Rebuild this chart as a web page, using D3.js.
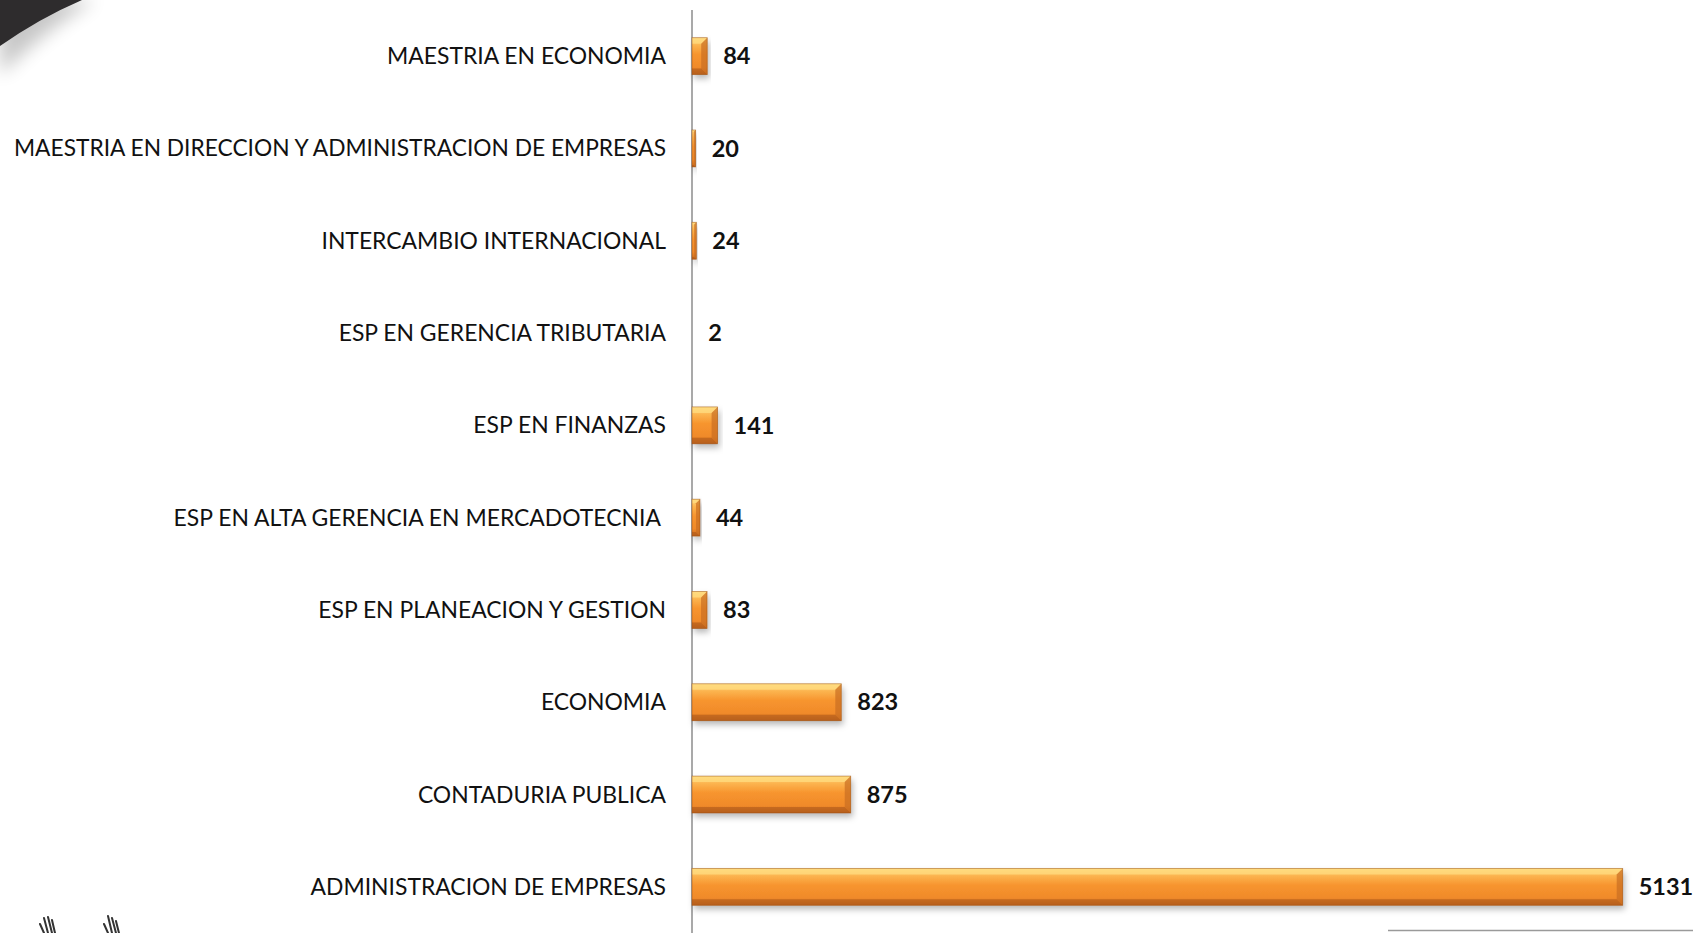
<!DOCTYPE html>
<html>
<head>
<meta charset="utf-8">
<script src="https://cdn.jsdelivr.net/npm/d3@7"></script>
<style>
html,body{margin:0;padding:0;background:#fff;overflow:hidden;}
svg{display:block;}
</style>
</head>
<body>
<svg id="chart" width="1693" height="933"></svg>
<script>
const categories = [
  "MAESTRIA EN ECONOMIA",
  "MAESTRIA EN DIRECCION Y ADMINISTRACION DE EMPRESAS",
  "INTERCAMBIO INTERNACIONAL",
  "ESP EN GERENCIA TRIBUTARIA",
  "ESP EN FINANZAS",
  "ESP EN ALTA GERENCIA EN MERCADOTECNIA ",
  "ESP EN PLANEACION Y GESTION",
  "ECONOMIA",
  "CONTADURIA PUBLICA",
  "ADMINISTRACION DE EMPRESAS"
];
const values = [84, 20, 24, 2, 141, 44, 83, 823, 875, 5131];

const svg = d3.select("#chart");
const W = 1693, H = 933;
const x0 = 692;

const defs = svg.append("defs");
const g1 = defs.append("linearGradient").attr("id","barGrad").attr("x1",0).attr("y1",0).attr("x2",0).attr("y2",1);
[[0,"#ffd87e"],[0.2,"#fcb44f"],[0.45,"#f7952f"],[0.8,"#f08a2a"],[1,"#c86a1e"]].forEach(s=>g1.append("stop").attr("offset",s[0]).attr("stop-color",s[1]));
const fs = defs.append("filter").attr("id","shadow").attr("x","-10%").attr("y","-40%").attr("width","130%").attr("height","200%");
fs.append("feDropShadow").attr("dx",2).attr("dy",4).attr("stdDeviation",3).attr("flood-color","#000").attr("flood-opacity",0.28);
const fb = defs.append("filter").attr("id","blur").attr("x","-50%").attr("y","-50%").attr("width","200%").attr("height","200%");
fb.append("feGaussianBlur").attr("stdDeviation",9);

// decorative top-left corner
svg.append("path").attr("d","M0,0 L95,0 Q45,30 0,75 Z").attr("fill","#000").attr("opacity",0.22).attr("filter","url(#blur)");
svg.append("path").attr("d","M0,0 L82,0 Q40,18 0,46 Z").attr("fill","#2e2c2d");

const x = d3.scaleLinear().domain([0, d3.max(values)]).range([x0, 1622.7]);
const y = d3.scaleBand().domain(categories).range([10, 933]).paddingInner(0.6).paddingOuter(0.3);

// axis line
svg.append("line").attr("x1",x0).attr("x2",x0).attr("y1",10).attr("y2",H).attr("stroke","#8c8c8c").attr("stroke-width",1.5);

const data = categories.map((c,i)=>({c, v: values[i]}));
const bars = svg.append("g").selectAll("g").data(data).join("g");

bars.each(function(d){
  const g = d3.select(this);
  const bx = x(0), bw = x(d.v) - x(0), by = y(d.c), bh = y.bandwidth();
  if (bw < 0.5) return;
  const b = Math.min(6, bw/2, bh/4);
  g.append("rect").attr("x",bx).attr("y",by).attr("width",bw).attr("height",bh)
    .attr("fill","url(#barGrad)").attr("filter","url(#shadow)");
  g.append("path").attr("d",`M${bx},${by} L${bx+bw},${by} L${bx+bw-b},${by+b} L${bx},${by+b} Z`).attr("fill","#ffdc80").attr("opacity",0.75);
  g.append("path").attr("d",`M${bx},${by+bh} L${bx+bw},${by+bh} L${bx+bw-b},${by+bh-b} L${bx},${by+bh-b} Z`).attr("fill","#a9561a").attr("opacity",0.55);
  g.append("path").attr("d",`M${bx+bw},${by} L${bx+bw},${by+bh} L${bx+bw-b},${by+bh-b} L${bx+bw-b},${by+b} Z`).attr("fill","#c96d22").attr("opacity",0.7);
  g.append("rect").attr("x",bx).attr("y",by).attr("width",bw).attr("height",bh)
    .attr("fill","none").attr("stroke","#9a4e12").attr("stroke-width",0.8).attr("stroke-opacity",0.6);
});

// category labels
const labels = svg.append("g").selectAll("text").data(data).join("text")
  .attr("x", x0 - 26)
  .attr("y", d => y(d.c) + y.bandwidth()/2)
  .attr("dy","0.35em")
  .attr("text-anchor","end")
  .style("white-space","pre")
  .attr("font-family","Lato, 'Open Sans', sans-serif")
  .attr("font-size",22.9)
  .attr("fill","#111")
  .text(d => d.c);
labels.each(function(){
  const w = this.getComputedTextLength();
  if (w > 652) d3.select(this).attr("textLength", 652).attr("lengthAdjust","spacingAndGlyphs");
});

// value labels
svg.append("g").selectAll("text").data(data).join("text")
  .attr("x", d => x(d.v) + 16)
  .attr("y", d => y(d.c) + y.bandwidth()/2)
  .attr("dy","0.35em")
  .attr("font-family","Lato, 'Open Sans', sans-serif")
  .attr("font-weight","bold")
  .attr("font-size",23.5)
  .attr("fill","#111")
  .text(d => d.v);

// bottom decorations
svg.append("line").attr("x1",1388).attr("x2",W).attr("y1",930.5).attr("y2",930.5).attr("stroke","#9a9a9a").attr("stroke-width",1.5);
const logo = svg.append("g").attr("stroke","#333").attr("stroke-width",2).attr("fill","none").attr("stroke-linecap","round");
[[44,918,48,933],[48,917,52,933],[52,920,55,933],[40,924,44,933],[108,916,112,933],[112,918,116,933],[116,921,119,933],[104,924,108,933]]
  .forEach(p=>logo.append("line").attr("x1",p[0]).attr("y1",p[1]).attr("x2",p[2]).attr("y2",p[3]));
</script>
</body>
</html>
